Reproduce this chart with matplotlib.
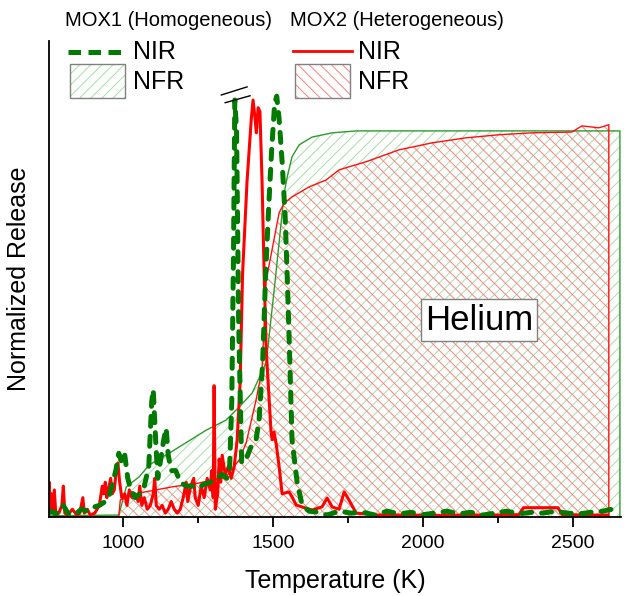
import numpy as np
import matplotlib
matplotlib.use("Agg")
from matplotlib import pyplot as plt
from matplotlib.lines import Line2D
from matplotlib.patches import Rectangle
from matplotlib.ticker import MultipleLocator

plt.rcParams['font.family'] = ['Liberation Sans', 'DejaVu Sans']
plt.rcParams['hatch.linewidth'] = 0.7

# MOX1 (homogeneous) - noble gas instantaneous release (NIR), normalized
t_nir1 = [750, 760, 775, 790, 800, 815, 830, 845, 860, 880, 900, 920, 940, 955, 965, 975,
          985, 995, 1005, 1015, 1025, 1040, 1055, 1070, 1085, 1095, 1100, 1108, 1115, 1125,
          1135, 1143, 1150, 1160, 1175, 1190, 1210, 1230, 1250, 1270, 1290, 1310, 1330, 1345,
          1355, 1362, 1368, 1372, 1378, 1385, 1395, 1410, 1425, 1443, 1453, 1465, 1475, 1485,
          1495, 1505, 1512, 1520, 1530, 1540, 1548, 1555, 1563, 1580, 1597, 1620, 1643, 1680,
          1720, 1760, 1800, 1840, 1880, 1920, 1960, 2000, 2040, 2080, 2120, 2160, 2200, 2240,
          2280, 2320, 2360, 2400, 2440, 2480, 2520, 2560, 2600, 2630, 2655]
nir1 = [0.01, 0.015, 0.008, 0.02, 0.03, 0.01, 0.005, 0.01, 0.02, 0.015, 0.025, 0.03, 0.04, 0.06,
        0.09, 0.12, 0.165, 0.14, 0.16, 0.10, 0.07, 0.05, 0.06, 0.08, 0.13, 0.30, 0.33, 0.20,
        0.10, 0.15, 0.20, 0.23, 0.16, 0.12, 0.12, 0.09, 0.08, 0.08, 0.075, 0.085, 0.09, 0.10,
        0.11, 0.10, 0.13, 0.30, 0.70, 1.08, 1.00, 0.50, 0.14, 0.15, 0.18, 0.20, 0.25, 0.40,
        0.63, 0.80, 0.95, 1.07, 1.09, 1.03, 0.92, 0.78, 0.60, 0.42, 0.20, 0.09, 0.03, 0.015,
        0.013, 0.005, 0.015, 0.01, 0.012, 0.005, 0.015, 0.008, 0.012, 0.006, 0.01, 0.015,
        0.008, 0.012, 0.005, 0.01, 0.015, 0.008, 0.012, 0.01, 0.015, 0.01, 0.008, 0.012, 0.015,
        0.02, 0.03]

# MOX2 (heterogeneous) - NIR, normalized
t_nir2 = [750, 753, 756, 760, 763, 770, 775, 785, 795, 800, 805, 815, 830, 845, 855, 865, 870,
          880, 890, 905, 920, 930, 935, 940, 945, 950, 958, 963, 970, 978, 982, 988, 995, 1005,
          1012, 1020, 1030, 1040, 1050, 1055, 1062, 1070, 1080, 1090, 1100, 1105, 1110, 1120,
          1130, 1140, 1150, 1160, 1170, 1180, 1190, 1200, 1210, 1215, 1225, 1235, 1240, 1250,
          1260, 1270, 1280, 1290, 1295, 1300, 1303, 1307, 1315, 1320, 1325, 1330, 1340, 1350,
          1360, 1370, 1380, 1390, 1398, 1413, 1427, 1433, 1440, 1444, 1450, 1456, 1463, 1470,
          1477, 1487, 1493, 1497, 1503, 1510, 1520, 1530, 1553, 1563, 1577, 1600, 1630, 1663,
          1680, 1697, 1720, 1737, 1753, 1777, 1850, 1950, 2050, 2150, 2250, 2320, 2335, 2450,
          2465, 2550, 2617]
nir2 = [0.02, 0.09, 0.01, 0.06, 0.01, 0.07, 0.005, 0.01, 0.03, 0.08, 0.01, 0.005, 0.02, 0.005,
        0.01, 0.05, 0.01, 0.02, 0.005, 0.01, 0.03, 0.08, 0.06, 0.09, 0.05, 0.07, 0.10, 0.06,
        0.07, 0.13, 0.14, 0.09, 0.05, 0.06, 0.03, 0.07, 0.05, 0.06, 0.04, 0.08, 0.03, 0.05,
        0.02, 0.03, 0.06, 0.10, 0.03, 0.02, 0.03, 0.01, 0.02, 0.04, 0.02, 0.01, 0.02, 0.05,
        0.09, 0.04, 0.08, 0.10, 0.05, 0.03, 0.08, 0.05, 0.10, 0.07, 0.12, 0.05, 0.34, 0.02,
        0.06, 0.15, 0.09, 0.16, 0.11, 0.13, 0.10, 0.13, 0.20, 0.35, 0.63, 0.87, 1.03, 1.08,
        1.03, 0.995, 1.06, 1.05, 0.87, 0.63, 0.43, 0.30, 0.22, 0.20, 0.22, 0.19, 0.13, 0.06,
        0.065, 0.052, 0.031, 0.025, 0.018, 0.026, 0.049, 0.026, 0.02, 0.065, 0.044, 0.01,
        0.005, 0.005, 0.004, 0.005, 0.005, 0.006, 0.024, 0.024, 0.006, 0.005, 0.005]

# noble gas fractional release (NFR), cumulative
t_nfr1 = [750, 985, 987, 1010, 1053, 1087, 1163, 1277, 1343, 1387, 1430, 1477, 1507, 1537,
          1547, 1563, 1587, 1630, 1697, 1777, 2657]
nfr1 = [0.003, 0.005, 0.01, 0.078, 0.104, 0.135, 0.17, 0.225, 0.251, 0.285, 0.321, 0.40,
        0.614, 0.839, 0.881, 0.933, 0.964, 0.984, 0.995, 1.0, 1.0]

t_nfr2 = [750, 985, 990, 1053, 1163, 1253, 1343, 1387, 1410, 1443, 1463, 1477, 1520, 1537,
          1563, 1620, 1677, 1720, 1753, 1810, 1920, 2030, 2143, 2253, 2363, 2497, 2530, 2587,
          2620]
nfr2 = [0.0, 0.0, 0.044, 0.062, 0.078, 0.088, 0.104, 0.148, 0.192, 0.303, 0.381, 0.614, 0.788,
        0.813, 0.829, 0.855, 0.873, 0.899, 0.907, 0.92, 0.951, 0.969, 0.982, 0.99, 0.995, 0.997,
        1.013, 1.008, 1.016]

fig = plt.figure(figsize=(6.44, 5.96), dpi=100)
ax = fig.add_axes([0.076, 0.1326, 0.888, 0.7987])

ax.fill_between(t_nfr1, 0, nfr1, facecolor='none', edgecolor='#a8dca8', hatch='///', linewidth=0)
ax.fill_between(t_nfr2, 0, nfr2, facecolor='none', edgecolor='#ff8080', hatch='\\\\\\', linewidth=0)
ax.plot(t_nfr1 + [t_nfr1[-1]], nfr1 + [0], color='#2e9a2e', lw=1.0)
ax.plot(t_nfr2 + [t_nfr2[-1]], nfr2 + [0], color='#ff1010', lw=1.0)

ax.plot(t_nir2, nir2, color='#ff0000', lw=2.2, solid_joinstyle='round')
ax.plot(t_nir1, nir1, color='#007a00', lw=3.6, dashes=(2.0, 2.0), dash_capstyle='round')

# axis break marks over the cut MOX1 peak
ax.plot([1327, 1413], [1.093, 1.114], color='black', lw=1.0, clip_on=False)
ax.plot([1340, 1423], [1.073, 1.091], color='black', lw=1.0, clip_on=False)

ax.text(2187, 0.51, 'Helium', fontsize=25, ha='center', va='center',
        bbox=dict(boxstyle='square,pad=0.12', fc='white', ec='#808080', lw=1.0))

ax.set_xlim(752, 2660)
ax.set_ylim(0, 1.233)
ax.spines['top'].set_visible(False)
ax.spines['right'].set_visible(False)
ax.spines['left'].set_linewidth(1.3)
ax.spines['bottom'].set_linewidth(1.3)
ax.set_yticks([])
ax.xaxis.set_major_locator(MultipleLocator(500))
ax.xaxis.set_minor_locator(MultipleLocator(250))
ax.tick_params(axis='x', which='major', length=7, width=1.3, labelsize=14, pad=6)
ax.tick_params(axis='x', which='minor', length=4, width=1.3)
ax.set_xlabel('Temperature (K)', fontsize=18, labelpad=12)
ax.set_ylabel('Normalized Release', fontsize=18, labelpad=13)

# hand-made legend (two columns)
W, H = 644.0, 596.0
def fx(px):
    return px / W
def fy(py):
    return 1 - py / H

for x0, title, col, hatch, hcol, lstyle in [
        (65, 'MOX1 (Homogeneous)', '#007a00', '///', '#a8dca8', 'dash'),
        (290, 'MOX2 (Heterogeneous)', '#ff0000', '\\\\\\', '#ff8080', 'solid')]:
    fig.text(fx(x0), fy(20), title, fontsize=14.5, ha='left', va='center')
    if lstyle == 'dash':
        ln = Line2D([fx(x0 + 3), fx(x0 + 57)], [fy(52), fy(52)], color=col, lw=3.6,
                    dashes=(2.5, 1.5), transform=fig.transFigure)
    else:
        ln = Line2D([fx(x0 + 3), fx(x0 + 62)], [fy(51), fy(51)], color=col, lw=2.0,
                    transform=fig.transFigure)
    fig.add_artist(ln)
    fig.add_artist(Rectangle((fx(x0 + 5), fy(98)), fx(55), 34 / H, facecolor='none',
                             edgecolor=hcol, hatch=hatch, lw=0, transform=fig.transFigure))
    fig.add_artist(Rectangle((fx(x0 + 5), fy(98)), fx(55), 34 / H, facecolor='none',
                             edgecolor='#808080', lw=1.0, transform=fig.transFigure))
    fig.text(fx(x0 + 68), fy(52), 'NIR', fontsize=18, ha='left', va='center')
    fig.text(fx(x0 + 68), fy(82), 'NFR', fontsize=18, ha='left', va='center')

fig.savefig('out.png', dpi=100)
